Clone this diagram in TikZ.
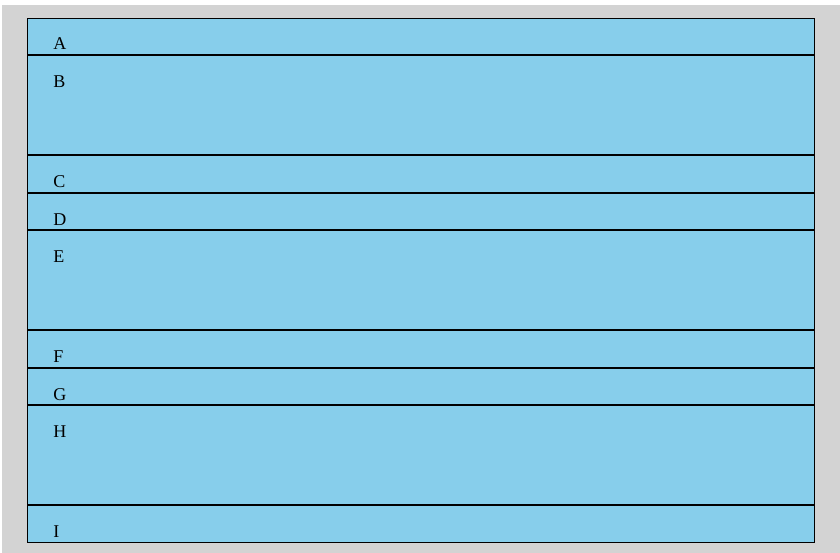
\documentclass[tikz,border=0pt]{standalone}
\usepackage{fontspec}
\setmainfont{Liberation Serif}
\usetikzlibrary{positioning}
\definecolor{bandblue}{HTML}{87CEEB}
\definecolor{pagegray}{HTML}{D3D3D3}
\begin{document}
\begin{tikzpicture}[
  x=0.75pt,y=-0.75pt,
  band/.style={fill=bandblue},
  divider/.style={line width=1.5pt},
  frame/.style={draw,line width=0.75pt},
  lbl/.style={anchor=base west,inner sep=0pt,font=\fontsize{13.5pt}{16pt}\selectfont}
]
\useasboundingbox (0,0) rectangle (840,553);
\fill[white] (0,0) rectangle (840,553);
\fill[pagegray] (2,5) rectangle (840,553);
% bands: name / top / bottom
\foreach \n/\t/\b in {A/18/55,B/55/155,C/155/193,D/193/230,E/230/330,F/330/368,G/368/405,H/405/505,I/505/542}{
  \fill[band] (27,\t) rectangle (814,\b);
  \coordinate (top\n) at (27,\t);
  \coordinate (end\n) at (814,\t);
  \node[lbl] (lbl\n) at (53,{\t+32}) {\n};
}
% dividers between bands
\foreach \n in {B,C,D,E,F,G,H,I}{
  \draw[divider] (top\n) -- (end\n);
}
\draw[frame] (27,18) rectangle (814,542);
\end{tikzpicture}
\end{document}
